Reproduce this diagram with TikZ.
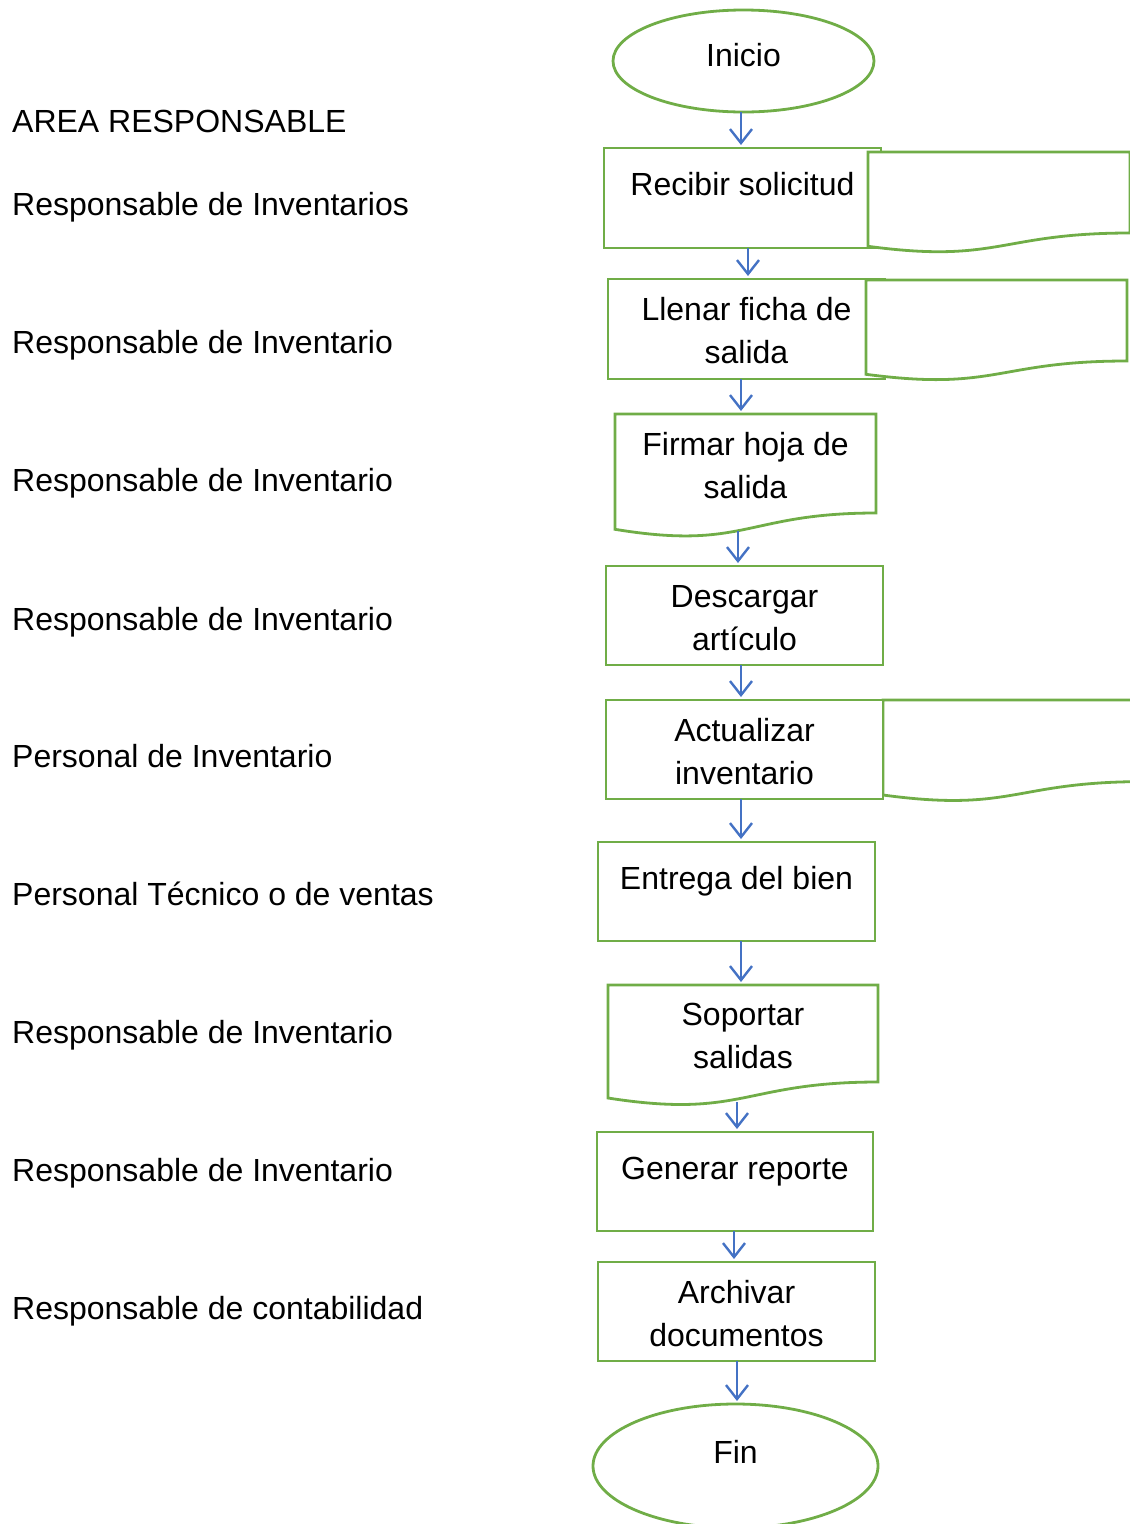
\documentclass[tikz,border=0pt]{standalone}
\usepackage{fontspec}
\setmainfont{Liberation Sans}
\usetikzlibrary{arrows.meta,shapes.geometric}
\definecolor{grn}{HTML}{70AD47}
\definecolor{blu}{HTML}{4472C4}
\newcommand\hs{\rule{0pt}{27pt}}
\begin{document}
\begin{tikzpicture}[x=1pt,y=-1pt,
 every node/.style={font=\fontsize{32}{43}\selectfont},
 box/.style={draw=grn, line width=2.8pt, fill=white, minimum width=277pt, minimum height=100pt, align=center, inner sep=0pt, outer sep=0pt},
 txt/.style={align=center, inner sep=0pt, outer sep=0pt},
 shp/.style={draw=grn, line width=2.8pt, fill=white},
 oval/.style={ellipse, draw=grn, line width=2.8pt, inner sep=0pt, outer sep=0pt, text height=23pt, text depth=0pt},
 arr/.style={draw=blu, line width=2.4pt, -{Straight Barb[length=14pt,width=22pt]}, shorten >=3pt},
 lbl/.style={anchor=base west, inner sep=0pt}]
\useasboundingbox (0,0) rectangle (1130,1524);
\clip (0,0) rectangle (1130,1524);

% left labels
\node[lbl] (l0) at (12,132) {AREA RESPONSABLE};
\node[lbl] (l1) at (12,215) {Responsable de Inventarios};
\node[lbl] (l2) at (12,353) {Responsable de Inventario};
\node[lbl] (l3) at (12,491) {Responsable de Inventario};
\node[lbl] (l4) at (12,630) {Responsable de Inventario};
\node[lbl] (l5) at (12,767) {Personal de Inventario};
\node[lbl] (l6) at (12,905) {Personal Técnico o de ventas};
\node[lbl] (l7) at (12,1043) {Responsable de Inventario};
\node[lbl] (l8) at (12,1181) {Responsable de Inventario};
\node[lbl] (l9) at (12,1319) {Responsable de contabilidad};

% start
\node[oval, minimum width=261pt, minimum height=102pt] (inicio) at (743.5,61) {\raisebox{6pt}{Inicio}};

% Recibir solicitud + document
\node[box] (recibir) at (742.5,198) {\hs Recibir solicitud\\[-11pt]\mbox{}};
\draw[shp] (868,152) -- (1130,152) -- (1130,233) .. controls (999,233) and (999,263.9) .. (868,246.3) -- cycle;

% Llenar ficha + document
\node[box] (llenar) at (746.5,329) {\hs Llenar ficha de\\salida\mbox{}};
\draw[shp] (866,280) -- (1127,280) -- (1127,361) .. controls (996.5,361) and (996.5,391.6) .. (866,374.3) -- cycle;

% Firmar hoja (document shape)
\draw[shp] (615,414) -- (876,414) -- (876,513) .. controls (745.5,513) and (745.5,550.8) .. (615,529.3) -- cycle;
\node[txt, minimum width=261pt, minimum height=99pt] (firmar) at (745.5,463.5) {\hs Firmar hoja de\\salida\mbox{}};
\coordinate (firmarW) at (738,531);

% Descargar
\node[box, minimum height=99pt] (descargar) at (744.5,615.5) {\hs Descargar\\artículo\mbox{}};

% Actualizar + document
\draw[shp] (883,700) -- (1144,700) -- (1144,781.6) .. controls (1013.5,781.6) and (1013.5,812.7) .. (883,795) -- cycle;
\node[box, minimum height=99pt] (actualizar) at (744.5,749.5) {\hs Actualizar\\inventario\mbox{}};

% Entrega
\node[box, minimum height=99pt] (entrega) at (736.5,891.5) {\hs Entrega del bien\\[-11pt]\mbox{}};

% Soportar salidas (document shape)
\draw[shp] (608,985) -- (878,985) -- (878,1082) .. controls (743,1082) and (743,1119.1) .. (608,1098) -- cycle;
\node[txt, minimum width=270pt, minimum height=97pt] (soportar) at (743,1033.5) {\hs Soportar\\salidas\mbox{}};
\coordinate (soportarW) at (737,1102);

% Generar
\node[box, minimum width=276pt, minimum height=99pt] (generar) at (735,1181.5) {\hs Generar reporte\\[-11pt]\mbox{}};

% Archivar
\node[box, minimum height=99pt] (archivar) at (736.5,1311.5) {\hs Archivar\\documentos\mbox{}};

% end
\node[oval, minimum width=285pt, minimum height=124pt] (fin) at (735.5,1466) {\raisebox{14pt}{Fin}};

% connectors
\draw[arr] (inicio.south -| 741,0) -- (recibir.north -| 741,0);
\draw[arr] (recibir.south -| 748,0) -- (llenar.north -| 748,0);
\draw[arr] (llenar.south -| 741,0) -- (firmar.north -| 741,0);
\draw[arr] (firmarW) -- (descargar.north -| firmarW);
\draw[arr] (descargar.south -| 741,0) -- (actualizar.north -| 741,0);
\draw[arr] (actualizar.south -| 741,0) -- (entrega.north -| 741,0);
\draw[arr] (entrega.south -| 741,0) -- (soportar.north -| 741,0);
\draw[arr] (soportarW) -- (generar.north -| soportarW);
\draw[arr] (generar.south -| 734,0) -- (archivar.north -| 734,0);
\draw[arr] (archivar.south -| 737,0) -- (fin.north -| 737,0);
\end{tikzpicture}
\end{document}
